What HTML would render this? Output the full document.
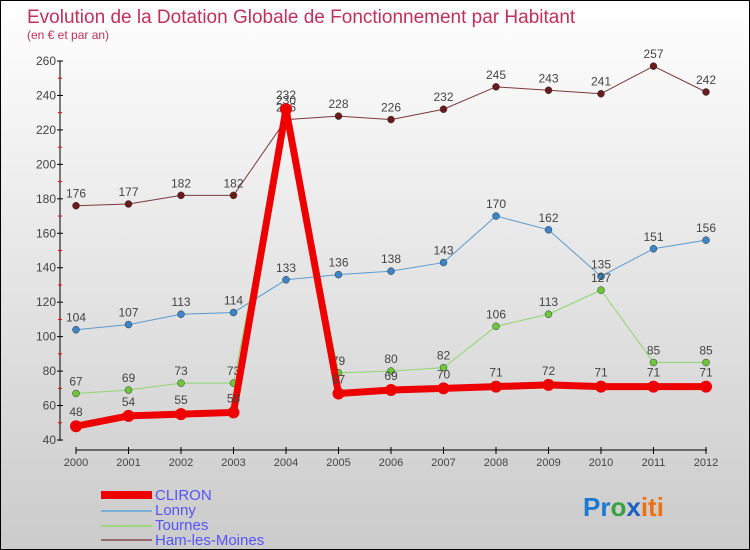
<!DOCTYPE html>
<html><head><meta charset="utf-8"><style>
body{margin:0}
#c{width:748px;height:548px;border:1px solid #000;background:linear-gradient(#fff,#cbcbcb);position:relative;font-family:"Liberation Sans",sans-serif;overflow:hidden}
text{font-family:"Liberation Sans",sans-serif}
</style></head><body>
<div id="c">
<svg id="s" width="748" height="548" xmlns="http://www.w3.org/2000/svg">
<text x="26" y="22" font-size="19" fill="#c0305a">Evolution de la Dotation Globale de Fonctionnement par Habitant</text>
<text x="26" y="38" font-size="12" fill="#c0305a">(en € et par an)</text>
<g id="axes"></g><g id="series"></g>
<g>
<rect x="100" y="490" width="51" height="8" fill="#e00"/>
<text x="154" y="499" font-size="15" fill="#5555ff">CLIRON</text>
<line x1="100" y1="510" x2="151" y2="510" stroke="#7ab0d8" stroke-width="2"/>
<text x="154" y="514" font-size="15" fill="#5555ff">Lonny</text>
<line x1="100" y1="525" x2="151" y2="525" stroke="#9ed67e" stroke-width="2"/>
<text x="154" y="529" font-size="15" fill="#5555ff">Tournes</text>
<line x1="100" y1="539" x2="151" y2="539" stroke="#9a6b6b" stroke-width="2"/>
<text x="154" y="544" font-size="15" fill="#5555ff">Ham-les-Moines</text>
</g>
<g font-size="26" font-weight="bold">
<text x="582" y="515"><tspan fill="#1a7ad0">Pr</tspan><tspan fill="#3aa040">o</tspan><tspan fill="#1a60c0">x</tspan><tspan fill="#f07010">iti</tspan></text>
</g>
</svg></div>
<script>
const years=["2000","2001","2002","2003","2004","2005","2006","2007","2008","2009","2010","2011","2012"];
const yTicks=[40,60,80,100,120,140,160,180,200,220,240,260];
const cliron=[48,54,55,56,232,67,69,70,71,72,71,71,71];
const lonny=[104,107,113,114,133,136,138,143,170,162,135,151,156];
const tournes=[67,69,73,73,230,79,80,82,106,113,127,85,85];
const ham=[176,177,182,182,226,228,226,232,245,243,241,257,242];
const NS="http://www.w3.org/2000/svg";
const X=i=>75+i*52.5, Y=v=>439-(v-40)*(379/220);
function mk(t,a,p){const e=document.createElementNS(NS,t);for(const k in a)e.setAttribute(k,a[k]);p.appendChild(e);return e;}
const ax=document.getElementById('axes');
mk('line',{x1:59,y1:60,x2:59,y2:440,stroke:'#000'},ax);
mk('line',{x1:75,y1:449,x2:706,y2:449,stroke:'#000'},ax);
yTicks.forEach(v=>{mk('line',{x1:56,y1:Y(v),x2:62,y2:Y(v),stroke:'#000'},ax);
 if(v<260)mk('line',{x1:57,y1:Y(v+10),x2:61,y2:Y(v+10),stroke:'#e00'},ax);
 const t=mk('text',{x:55,y:Y(v)+4,'font-size':12,fill:'#444','text-anchor':'end'},ax);t.textContent=v;
 
 });
years.forEach((y,i)=>{mk('line',{x1:X(i),y1:446,x2:X(i),y2:453,stroke:'#000'},ax);
 const t=mk('text',{x:X(i),y:465,'font-size':11,fill:'#444','text-anchor':'middle'},ax);t.textContent=y;
 
 });
const sg=document.getElementById('series');
function draw(d,name,line,dot,w,r,labOff){
 const g=mk('g',{},sg);
 
 
 mk('polyline',{points:d.map((v,i)=>X(i)+','+Y(v)).join(' '),fill:'none',stroke:line,'stroke-width':w,'stroke-linejoin':'round'},g);
 d.forEach((v,i)=>{const c=mk('circle',{cx:X(i),cy:Y(v),r:r,fill:dot,stroke:w>3?dot:'#333','stroke-width':w>3?0:0.5},g);
  
  
  const t=mk('text',{x:X(i),y:Y(v)-labOff,'font-size':12,fill:'#444','text-anchor':'middle'},g);t.textContent=v;
  
  });
}
draw(ham,'ham-les-moines','#7a3a3a','#6b1a1a',1,3.5,8);
draw(lonny,'lonny','#5a9ad0','#3a86c8',1,3.5,8);
draw(tournes,'tournes','#8ed86a','#6cc83a',1,3.5,8);
draw(cliron,'cliron','#e00','#e00',7,6,10);
</script>
</body></html>
